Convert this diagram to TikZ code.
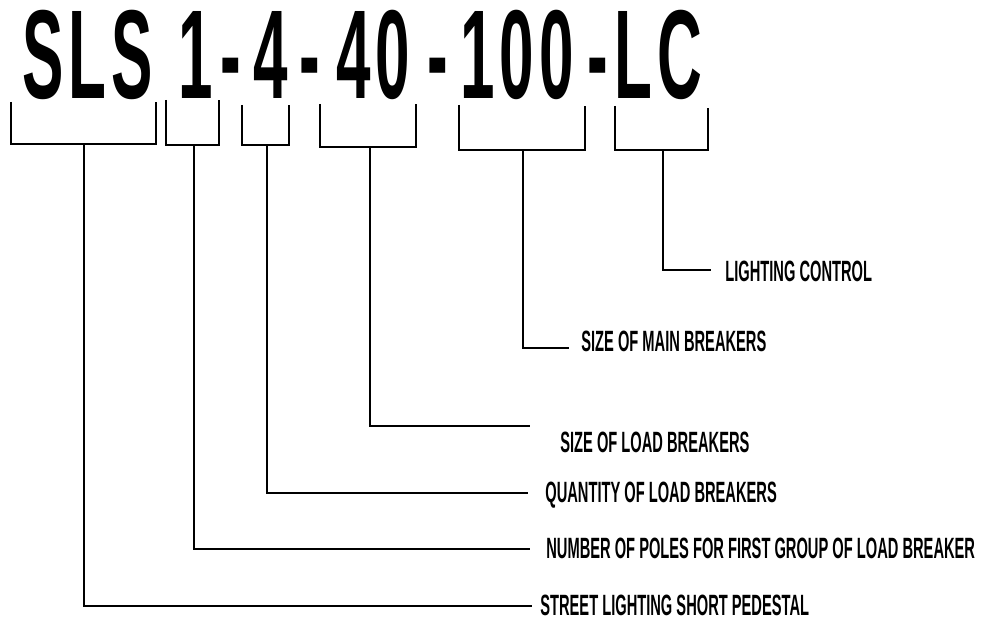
\documentclass[tikz,border=0pt]{standalone}
\usepackage{fontspec}
\newfontfamily\codefont[FakeStretch=0.49,LetterSpace=4]{Liberation Sans}
\newfontfamily\labelfont[FakeStretch=0.5]{Liberation Sans}
\usetikzlibrary{positioning}

\begin{document}
\begin{tikzpicture}[
    x=0.02cm, y=-0.02cm,
    code/.style={anchor=base, inner sep=0pt, font=\codefont\bfseries\fontsize{72}{76}\selectfont},
    part/.style={anchor=base west, inner sep=0pt, font=\labelfont\bfseries\fontsize{16.7}{18}\selectfont},
    brace/.style={line width=1.2pt, line join=miter},
    lead/.style={line width=1.2pt}
]
\useasboundingbox (0,0) rectangle (986,624);

% the code itself
\node[code] (cSLS) at (87.5,99) {SLS};
\node[code] (c1) at (196,99) {1};
\node[code] (d1) at (231,99) {-};
\node[code] (c4) at (270.5,99) {4};
\node[code] (d2) at (310,99) {-};
\node[code] (c40) at (373,99) {40};
\node[code] (d3) at (438,99) {-};
\node[code] (c100) at (517,99) {100};
\node[code] (d4) at (597.5,99) {-};
\node[code] (cLC) at (658.5,99) {LC};

% brackets under each part
\draw[brace] (11,102) -- (11,144) -- (156,144) -- (156,102);
\draw[brace] (166,100) -- (166,145) -- (219,145) -- (219,100);
\draw[brace] (242,105) -- (242,145) -- (289,145) -- (289,105);
\draw[brace] (320,104) -- (320,147) -- (416,147) -- (416,104);
\draw[brace] (459,105) -- (459,150) -- (585,150) -- (585,106);
\draw[brace] (615,106) -- (615,150) -- (708,150) -- (708,108);

\coordinate (bSLS) at (84,144);
\coordinate (b1) at (194,145);
\coordinate (b4) at (267,145);
\coordinate (b40) at (370,147);
\coordinate (b100) at (523,150);
\coordinate (bLC) at (663,150);

% meanings
\node[part] (lc) at (725,282) {LIGHTING CONTROL};
\node[part] (main) at (581,352) {SIZE OF MAIN BREAKERS};
\node[part] (load) at (560,452) {SIZE OF LOAD BREAKERS};
\node[part] (qty) at (545,502) {QUANTITY OF LOAD BREAKERS};
\node[part] (poles) at (546,558) {NUMBER OF POLES FOR FIRST GROUP OF LOAD BREAKER};
\node[part] (street) at (540,615) {STREET LIGHTING SHORT PEDESTAL};

\coordinate (eLC) at (711,270);
\coordinate (e100) at (569,348);
\coordinate (e40) at (530,426);
\coordinate (e4) at (528,493);
\coordinate (e1) at (530,549);
\coordinate (eSLS) at (532,606);

\draw[lead] (bLC) |- (eLC);
\draw[lead] (b100) |- (e100);
\draw[lead] (b40) |- (e40);
\draw[lead] (b4) |- (e4);
\draw[lead] (b1) |- (e1);
\draw[lead] (bSLS) |- (eSLS);

\end{tikzpicture}
\end{document}
